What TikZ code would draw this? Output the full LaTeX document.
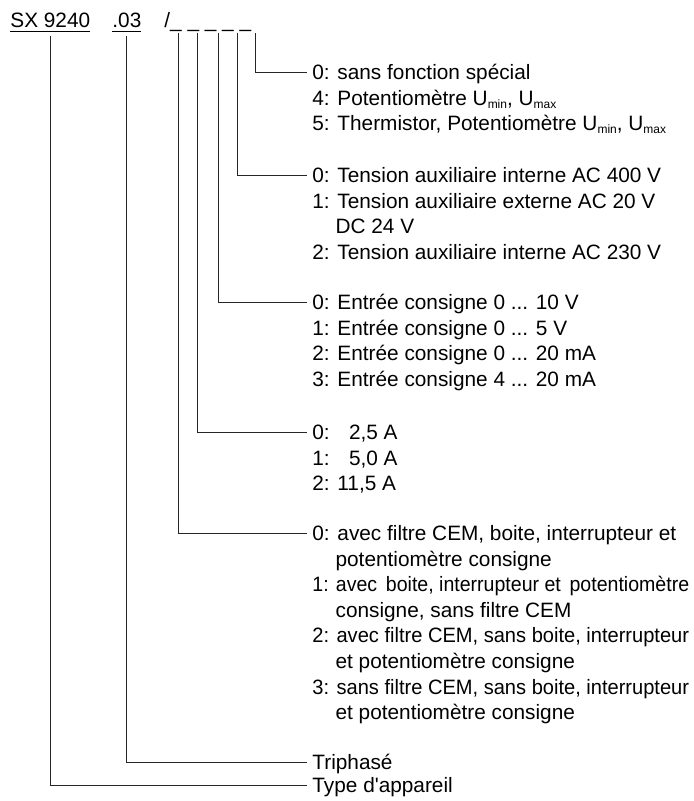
\documentclass[tikz,border=0pt]{standalone}
\usepackage{fontspec}
\usepackage{graphicx}
\setmainfont{Liberation Sans}
\usetikzlibrary{positioning}

\newlength{\ind}
\setlength{\ind}{11.6pt}
\newcommand{\cont}{\hspace*{\ind}}
\newcommand{\sub}[1]{\raisebox{-1.6pt}{\fontsize{6}{6}\selectfont #1}}
\newcommand{\narrow}[2]{\scalebox{#1}[1]{#2}}
\newcommand{\optlist}[1]{\begin{tabular}[t]{@{}l@{}}#1\end{tabular}}

\tikzset{
	code/.style={inner sep=0pt, anchor=base west, font=\fontsize{10.4}{12.8}\selectfont},
	opts/.style={inner xsep=2.5pt, inner ysep=0pt, anchor=base west, font=\fontsize{10.4}{12.8}\selectfont},
	lead/.style={line width=0.5pt, draw=black!85},
}

\begin{document}
\begin{tikzpicture}[x=0.5pt, y=-0.5pt]
	\useasboundingbox (0,0) rectangle (694,801);

	% type code
	\node[code] (sx) at (10,28) {\underline{SX 9240}};
	\node[code] (dot) at (112,28) {\underline{.03}};
	\node[code] (var) at (164,28) {/\_ \_ \_ \_ \_};
	\coordinate (d1) at (178,33);
	\coordinate (d2) at (197,33);
	\coordinate (d3) at (218,33);
	\coordinate (d4) at (237,33);
	\coordinate (d5) at (255,33);

	% options
	\node[opts] (g1) at (307,79.5) {\optlist{0: sans fonction spécial\\
		4: Potentiomètre U\sub{min}, U\sub{max}\\
		5: Thermistor, Potentiomètre U\sub{min}, U\sub{max}}};
	\node[opts] (g2) at (307,182.5) {\optlist{0: Tension auxiliaire interne AC 400 V\\
		1: Tension auxiliaire externe AC 20 V\\
		\cont DC 24 V\\
		2: Tension auxiliaire interne AC 230 V}};
	\node[opts] (g3) at (307,309.5) {\optlist{0: Entrée consigne 0 ... 10 V\\
		1: Entrée consigne 0 ... 5 V\\
		2: Entrée consigne 0 ... 20 mA\\
		3: Entrée consigne 4 ... 20 mA}};
	\node[opts] (g4) at (307,439.5) {\optlist{0: \phantom{1}2,5 A\\
		1: \phantom{1}5,0 A\\
		2: 11,5 A}};
	\node[opts] (g5) at (307,540.5) {\optlist{0: avec filtre CEM, boite, interrupteur et\\
		\cont potentiomètre consigne\\
		\narrow{0.94}{1: avec\,\ boite, interrupteur et\,\ potentiomètre}\\
		\cont consigne, sans filtre CEM\\
		\narrow{0.965}{2: avec filtre CEM, sans boite, interrupteur}\\
		\cont et potentiomètre consigne\\
		\narrow{0.965}{3: sans filtre CEM, sans boite, interrupteur}\\
		\cont et potentiomètre consigne}};
	\node[opts] (tri) at (307,769.5) {Triphasé};
	\node[opts] (typ) at (307,792.5) {Type d\textquotesingle appareil};

	% leads
	\draw[lead] (d5) |- ([yshift=3.7pt]g1.base west);
	\draw[lead] (d4) |- ([yshift=3.7pt]g2.base west);
	\draw[lead] (d3) |- ([yshift=3.7pt]g3.base west);
	\draw[lead] (d2) |- ([yshift=3.7pt]g4.base west);
	\draw[lead] (d1) |- ([yshift=3.7pt]g5.base west);
	\draw[lead] ([yshift=-1.5pt]dot.south) |- ([yshift=3.7pt]tri.base west);
	\draw[lead] ([yshift=-1.5pt]sx.south) |- ([yshift=3.7pt]typ.base west);
\end{tikzpicture}
\end{document}
